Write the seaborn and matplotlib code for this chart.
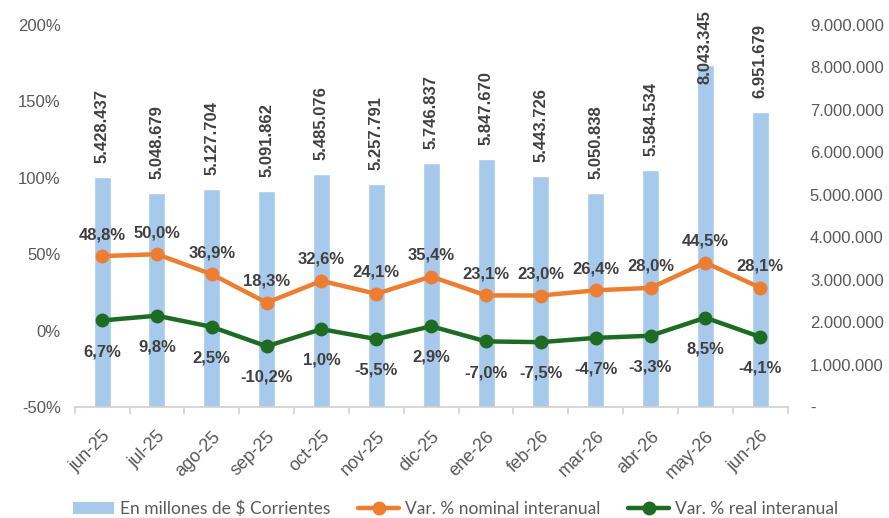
import numpy as np
import pandas as pd
import matplotlib
matplotlib.use("Agg")
import matplotlib.pyplot as plt
import seaborn as sns
from matplotlib.ticker import FuncFormatter, FixedLocator
from matplotlib.lines import Line2D
from matplotlib.patches import Patch

# data
months = ["jun-25", "jul-25", "ago-25", "sep-25", "oct-25", "nov-25", "dic-25",
          "ene-26", "feb-26", "mar-26", "abr-26", "may-26", "jun-26"]
corrientes = [5428437, 5048679, 5127704, 5091862, 5485076, 5257791, 5746837,
              5847670, 5443726, 5050838, 5584534, 8043345, 6951679]
var_nominal = [48.8, 50.0, 36.9, 18.3, 32.6, 24.1, 35.4, 23.1, 23.0, 26.4, 28.0, 44.5, 28.1]
var_real = [6.7, 9.8, 2.5, -10.2, 1.0, -5.5, 2.9, -7.0, -7.5, -4.7, -3.3, 8.5, -4.1]

BAR = "#A6C9EC"
ORANGE = "#ED7D31"
GREEN = "#1E6B24"
LABEL = "#404040"
TICK = "#595959"

sns.set_theme(style="white")
plt.rcParams["font.family"] = ["Liberation Sans", "DejaVu Sans"]

df = pd.DataFrame({"mes": months, "corr": corrientes,
                   "nom": var_nominal, "real": var_real})
x = np.arange(len(months))

fig = plt.figure(figsize=(8.89, 5.18), dpi=100)
ax2 = fig.add_axes([0.084, 0.214, 0.802, 0.738])  # bars, right axis
ax = ax2.twinx()  # percent lines, shown on the left
ax2.yaxis.tick_right()
ax.yaxis.tick_left()

ax2.bar(x, df["corr"], width=0.31, color=BAR, zorder=1)
ax2.set_ylim(0, 9_000_000)
ax2.set_xlim(-0.5, len(months) - 0.5)
ax2.yaxis.set_major_locator(FixedLocator(np.arange(0, 9_000_001, 1_000_000)))
ax2.yaxis.set_major_formatter(FuncFormatter(
    lambda v, p: "-" if v == 0 else f"{int(v):,}".replace(",", ".")))

for xi, v in zip(x, df["corr"]):
    y, va = v + 330_000, "bottom"
    if y + 1_800_000 > 9_400_000:  # too tall: push label down, like Excel does
        y, va = 9_350_000, "top"
    ax2.text(xi, y, f"{v:,}".replace(",", "."), rotation=90, ha="center",
             va=va, fontsize=12, fontweight="bold", color=LABEL, zorder=5,
             clip_on=False)

sns.lineplot(x=x, y=df["nom"], ax=ax, color=ORANGE, lw=3.2, marker="o",
             markersize=10, markeredgewidth=0, zorder=3)
sns.lineplot(x=x, y=df["real"], ax=ax, color=GREEN, lw=3.2, marker="o",
             markersize=10, markeredgewidth=0, zorder=3)
ax.set_ylim(-50, 200)
ax.yaxis.set_major_locator(FixedLocator([-50, 0, 50, 100, 150, 200]))
ax.yaxis.set_major_formatter(FuncFormatter(lambda v, p: f"{v:.0f}%"))
ax.set_ylabel("")
ax2.set_ylabel("")

for xi, v in zip(x, df["nom"]):
    ax.annotate(f"{v:.1f}%".replace(".", ","), (xi, v), xytext=(0, 10),
                textcoords="offset points", ha="center", va="bottom",
                fontsize=12, fontweight="bold", color=LABEL)
for xi, v in zip(x, df["real"]):
    ax.annotate(f"{v:.1f}%".replace(".", ","), (xi, v), xytext=(0, -17),
                textcoords="offset points", ha="center", va="top",
                fontsize=12, fontweight="bold", color=LABEL)

for a in (ax, ax2):
    for s in a.spines.values():
        s.set_visible(False)
    a.tick_params(axis="y", length=0, labelsize=12, labelcolor=TICK, pad=10)
ax2.tick_params(axis="y", pad=16)
ax2.spines["bottom"].set_visible(True)
ax2.spines["bottom"].set_color("#D0D0D0")
ax2.spines["bottom"].set_linewidth(1.2)

ax2.set_xticks(x)
ax2.set_xticklabels(months, rotation=45, ha="right", rotation_mode="anchor",
                    fontsize=13, color=TICK)
ax2.set_xticks(np.arange(-0.5, len(months)), minor=True)
ax2.tick_params(axis="x", which="major", length=0, pad=15)
ax2.tick_params(axis="x", which="minor", length=5, color="#D0D0D0", width=1.2,
                bottom=True)
ax.tick_params(axis="x", which="both", length=0, labelbottom=False, labeltop=False)

handles = [
    Patch(facecolor=BAR, edgecolor="none"),
    Line2D([0], [0], color=ORANGE, lw=3.2, marker="o", markersize=9),
    Line2D([0], [0], color=GREEN, lw=3.2, marker="o", markersize=9),
]
labels = ["En millones de $ Corrientes", "Var. % nominal interanual",
          "Var. % real interanual"]
leg = fig.legend(handles, labels, loc="lower center", ncol=3, frameon=False,
                 bbox_to_anchor=(0.512, -0.028), handlelength=2.4,
                 columnspacing=1.6, handletextpad=0.3,
                 prop={"family": ["Lato", "DejaVu Sans"], "size": 12.5})
for t in leg.get_texts():
    t.set_color(TICK)

fig.savefig("out.png", dpi=100)
